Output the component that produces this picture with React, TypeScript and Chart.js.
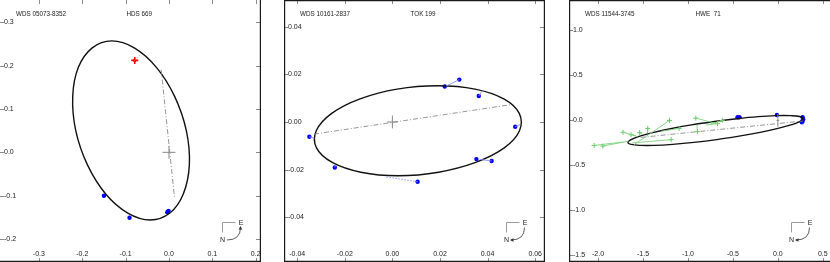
import React, { useEffect, useRef } from "react";
import { Chart, registerables } from "chart.js";
Chart.register(...registerables);

type Seg = [number, number, number, number];

// ---------- Panel 1 : WDS 05073-8352 / HDS 669 ----------
const P1_TITLE = "WDS 05073-8352";
const P1_NAME = "HDS 669";
const P1_X_TICKS = ["-0.3", "-0.2", "-0.1", "0.0", "0.1", "0.2"];
const P1_Y_TICKS = ["0.3", "0.2", "0.1", "0.0", "-0.1", "-0.2"];
const P1_ORBIT_X = [-0.132, -0.080, -0.029, 0.013, 0.040, 0.047, 0.033, 0.002, -0.043, -0.095, -0.146, -0.188, -0.215, -0.222, -0.209, -0.177];
const P1_ORBIT_Y = [0.257, 0.241, 0.196, 0.129, 0.050, -0.029, -0.096, -0.140, -0.156, -0.140, -0.096, -0.029, 0.050, 0.129, 0.196, 0.241];
const P1_BLUE_X = [-0.150, -0.091, -0.004, -0.001];
const P1_BLUE_Y = [-0.100, -0.151, -0.138, -0.135];
const P1_RED_X = [-0.079];
const P1_RED_Y = [0.212];
const P1_RED_RES: Seg[] = [[-0.079, 0.212, -0.060, 0.232]];
const P1_APSIDES: Seg = [-0.018, 0.191, 0.013, -0.107];
const P1_CROSS = [0.015, 0.015];

// ---------- Panel 2 : WDS 10161-2837 / TOK 199 ----------
const P2_TITLE = "WDS 10161-2837";
const P2_NAME = "TOK 199";
const P2_X_TICKS = ["-0.04", "-0.02", "0.00", "0.02", "0.04", "0.06"];
const P2_Y_TICKS = ["0.04", "0.02", "0.00", "-0.02", "-0.04"];
const P2_ORBIT_X = [0.0190, 0.0347, 0.0468, 0.0533, 0.0534, 0.0470, 0.0350, 0.0194, 0.0024, -0.0133, -0.0253, -0.0319, -0.0320, -0.0255, -0.0136, 0.0020];
const P2_ORBIT_Y = [0.0152, 0.0138, 0.0097, 0.0036, -0.0037, -0.0109, -0.0170, -0.0211, -0.0226, -0.0211, -0.0170, -0.0109, -0.0037, 0.0036, 0.0097, 0.0138];
const P2_BLUE_X = [-0.0349, -0.0242, 0.0106, 0.0220, 0.0281, 0.0363, 0.0516, 0.0353, 0.0417];
const P2_BLUE_Y = [-0.0062, -0.0191, -0.0251, 0.0149, 0.0178, 0.0109, -0.0020, -0.0156, -0.0164];
const P2_BLUE_RES: Seg[] = [
  [-0.0349, -0.0062, -0.0328, -0.0068],
  [-0.0242, -0.0191, -0.0240, -0.0180],
  [0.0281, 0.0178, 0.0226, 0.0151],
  [0.0363, 0.0109, 0.0377, 0.0132],
  [0.0516, -0.0020, 0.0536, -0.0011],
  [0.0417, -0.0164, 0.0367, -0.0157],
];
const P2_BLUE_RES_DOTTED: Seg[] = [[0.0106, -0.0251, -0.0027, -0.0231]];
const P2_APSIDES: Seg = [-0.0329, -0.0051, 0.0499, 0.0073];
const P2_CROSS = [0.0022, 0.0027];

// ---------- Panel 3 : WDS 11544-3745 / HWE 71 ----------
const P3_TITLE = "WDS 11544-3745";
const P3_NAME = "HWE  71";
const P3_X_TICKS = ["-2.0", "-1.5", "-1.0", "-0.5", "0.0", "0.5"];
const P3_Y_TICKS = ["1.0", "0.5", "0.0", "-0.5", "-1.0", "-1.5"];
const P3_ORBIT_X = [0.278, 0.248, 0.154, 0.002, -0.197, -0.430, -0.681, -0.934, -1.170, -1.373, -1.530, -1.632, -1.668, -1.638, -1.544, -1.392, -1.194, -0.961, -0.704, -0.457, -0.221, -0.017, 0.142, 0.242];
const P3_ORBIT_Y = [0.021, -0.010, -0.047, -0.089, -0.133, -0.174, -0.213, -0.244, -0.266, -0.278, -0.278, -0.267, -0.246, -0.216, -0.177, -0.136, -0.092, -0.050, -0.012, 0.019, 0.042, 0.053, 0.053, 0.043];
const P3_BLUE_X = [-0.011, -0.449, -0.431, 0.275, 0.281, 0.275, 0.267];
const P3_BLUE_Y = [0.061, 0.035, 0.035, 0.035, 0.014, -0.007, -0.021];
const P3_RED_X = [-0.420];
const P3_RED_Y = [0.035];
const P3_GREEN_X = [-2.043, -1.947, -1.722, -1.633, -1.537, -1.447, -1.205, -1.187, -1.098, -0.912, -0.895, -0.671, -0.617];
const P3_GREEN_Y = [-0.278, -0.285, -0.132, -0.160, -0.136, -0.089, 0.000, -0.214, -0.089, 0.025, -0.125, -0.036, 0.000];
const P3_GREEN_PRED_X = [-1.72, -1.66, -1.58, -1.56, -1.50, -1.45, -1.60, -1.62, -1.30, -0.70, -0.90, -0.80, -0.75];
const P3_GREEN_PRED_Y = [-0.24, -0.23, -0.17, -0.18, -0.16, -0.14, -0.27, -0.25, -0.12, -0.03, -0.05, -0.05, -0.04];
const P3_APSIDES: Seg = [-1.526, -0.189, 0.275, -0.007];
const P3_CROSS = [0.015, 0.07];

// ---------- helpers ----------
const pts = (xs: number[], ys: number[]) => xs.map((x, i) => ({ x, y: ys[i] }));

// closed smooth curve: wrap one point at each end and hide the two wrap segments
const orbitDs = (xs: number[], ys: number[]) => {
  const n = xs.length;
  const idx = [n - 1, ...xs.map((_, i) => i), 0, 1];
  const last = idx.length - 1;
  return {
    data: idx.map((i) => ({ x: xs[i], y: ys[i] })),
    showLine: true,
    borderColor: "#111111",
    borderWidth: 1.4,
    pointRadius: 0,
    tension: 0.4,
    segment: {
      borderColor: (c: any) =>
        c.p0DataIndex === 0 || c.p1DataIndex === last ? "rgba(0,0,0,0)" : undefined,
    },
  };
};

const segDs = (s: Seg, color: string, width: number, dash: number[] = []) => ({
  data: [{ x: s[0], y: s[1] }, { x: s[2], y: s[3] }],
  showLine: true,
  borderColor: color,
  borderWidth: width,
  borderDash: dash,
  pointRadius: 0,
  tension: 0,
});

interface PanelCfg {
  left: number;
  xMin: number; xMax: number; yMin: number; yMax: number;
  title: string; name: string;
  xTicks: string[]; yTicks: string[];
  frame: { l: boolean; r: boolean; t: boolean; b: boolean };
  arrowAtE: boolean;
  datasets: any[];
}

function buildP1(): any[] {
  return [
    segDs(P1_APSIDES, "#8a8a8a", 0.9, [5, 2, 1, 2]),
    segDs([-P1_CROSS[0], 0, P1_CROSS[0], 0], "#8a8a8a", 1),
    segDs([0, -P1_CROSS[1], 0, P1_CROSS[1]], "#8a8a8a", 1),
    orbitDs(P1_ORBIT_X, P1_ORBIT_Y),
    ...P1_RED_RES.map((s) => segDs(s, "#ff9a9a", 0.8, [1.5, 1.5])),
    { data: pts(P1_BLUE_X, P1_BLUE_Y), pointRadius: 2.2, pointBackgroundColor: "#0000ff", pointBorderColor: "#0000ff", pointBorderWidth: 0 },
    { data: pts(P1_RED_X, P1_RED_Y), pointStyle: "cross", pointRadius: 3.5, pointBorderColor: "#ff0000", pointBorderWidth: 1.6 },
    { data: pts(P1_RED_X, P1_RED_Y), pointRadius: 1.8, pointBackgroundColor: "#ff0000", pointBorderColor: "#ff0000", pointBorderWidth: 0 },
  ];
}

function buildP2(): any[] {
  return [
    segDs(P2_APSIDES, "#8a8a8a", 0.9, [5, 2, 1, 2]),
    segDs([-P2_CROSS[0], 0, P2_CROSS[0], 0], "#8a8a8a", 1),
    segDs([0, -P2_CROSS[1], 0, P2_CROSS[1]], "#8a8a8a", 1),
    ...P2_BLUE_RES.map((s) => segDs(s, "#8c8cff", 0.9)),
    ...P2_BLUE_RES_DOTTED.map((s) => segDs(s, "#8c8cff", 0.9, [1.5, 1.5])),
    orbitDs(P2_ORBIT_X, P2_ORBIT_Y),
    { data: pts(P2_BLUE_X, P2_BLUE_Y), pointRadius: 2.2, pointBackgroundColor: "#0000ff", pointBorderColor: "#0000ff", pointBorderWidth: 0 },
  ];
}

function buildP3(): any[] {
  const greenSegs: any[] = P3_GREEN_X.map((x, i) =>
    segDs([x, P3_GREEN_Y[i], P3_GREEN_PRED_X[i], P3_GREEN_PRED_Y[i]], "#7ed37e", 0.9)
  );
  return [
    ...greenSegs,
    { data: pts(P3_GREEN_X, P3_GREEN_Y), pointStyle: "cross", pointRadius: 2.5, pointBorderColor: "#66cc66", pointBorderWidth: 1 },
    segDs(P3_APSIDES, "#8a8a8a", 0.9, [5, 2, 1, 2]),
    segDs([-P3_CROSS[0], 0, P3_CROSS[0], 0], "#8a8a8a", 1),
    segDs([0, -P3_CROSS[1], 0, P3_CROSS[1]], "#8a8a8a", 1),
    orbitDs(P3_ORBIT_X, P3_ORBIT_Y),
    { data: pts(P3_BLUE_X, P3_BLUE_Y), pointRadius: 2.2, pointBackgroundColor: "#0000ff", pointBorderColor: "#0000ff", pointBorderWidth: 0 },
    { data: pts(P3_RED_X, P3_RED_Y), pointRadius: 1.8, pointBackgroundColor: "#ff0000", pointBorderColor: "#ff0000", pointBorderWidth: 0 },
  ];
}

const W = 261;
const H = 262;

const PANELS: PanelCfg[] = [
  {
    left: 0, xMin: -0.3768, xMax: 0.1993, yMin: -0.24, yMax: 0.3384,
    title: P1_TITLE, name: P1_NAME, xTicks: P1_X_TICKS, yTicks: P1_Y_TICKS,
    frame: { l: false, r: true, t: false, b: true }, arrowAtE: true, datasets: buildP1(),
  },
  {
    left: 284, xMin: -0.04387, xMax: 0.06244, yMin: -0.05715, yMax: 0.04957,
    title: P2_TITLE, name: P2_NAME, xTicks: P2_X_TICKS, yTicks: P2_Y_TICKS,
    frame: { l: true, r: true, t: true, b: true }, arrowAtE: false, datasets: buildP2(),
  },
  {
    left: 569, xMin: -2.2674, xMax: 0.5241, yMin: -1.5187, yMax: 1.2834,
    title: P3_TITLE, name: P3_NAME, xTicks: P3_X_TICKS, yTicks: P3_Y_TICKS,
    frame: { l: true, r: false, t: true, b: true }, arrowAtE: false, datasets: buildP3(),
  },
];

const FONT = "7px 'Liberation Sans', Arial, Helvetica, sans-serif";
const TITLE_FONT = "6.3px 'Liberation Sans', Arial, Helvetica, sans-serif";

function decorPlugin(p: PanelCfg) {
  return {
    id: "decor",
    afterDraw(chart: any) {
      const ctx: CanvasRenderingContext2D = chart.ctx;
      const xs = chart.scales.x;
      const ys = chart.scales.y;
      const w = chart.width;
      const h = chart.height;
      const line = (x1: number, y1: number, x2: number, y2: number) => {
        ctx.beginPath();
        ctx.moveTo(x1, y1);
        ctx.lineTo(x2, y2);
        ctx.stroke();
      };
      ctx.save();
      // tick marks (inward, mirrored)
      ctx.strokeStyle = "#8a8a8a";
      ctx.lineWidth = 1;
      p.xTicks.forEach((t) => {
        const px = Math.round(xs.getPixelForValue(parseFloat(t))) + 0.5;
        line(px, h, px, h - 4);
        line(px, 0, px, 4);
      });
      p.yTicks.forEach((t) => {
        const py = Math.round(ys.getPixelForValue(parseFloat(t))) + 0.5;
        line(0, py, 4, py);
        if (p.frame.r) line(w - 1, py, w - 5, py);
      });
      // frame
      ctx.strokeStyle = "#1a1a1a";
      ctx.lineWidth = 1.2;
      if (p.frame.l) line(0.6, 0, 0.6, h);
      if (p.frame.r) line(w - 0.6, 0, w - 0.6, h);
      if (p.frame.t) line(0, 0.6, w, 0.6);
      if (p.frame.b) line(0, h - 0.6, w, h - 0.6);
      // tick labels
      ctx.fillStyle = "#222";
      ctx.font = FONT;
      ctx.textBaseline = "middle";
      ctx.textAlign = "center";
      p.xTicks.forEach((t) => {
        ctx.fillText(t, xs.getPixelForValue(parseFloat(t)), 254.5);
      });
      ctx.textAlign = "left";
      p.yTicks.forEach((t) => {
        ctx.fillText(t, 4, ys.getPixelForValue(parseFloat(t)));
      });
      // titles
      ctx.font = TITLE_FONT;
      ctx.fillText(p.title, 16, 14);
      ctx.fillText(p.name, 126.5, 14);
      // compass
      ctx.font = FONT;
      const ox = 222.5;
      const oy = 222.5;
      ctx.strokeStyle = "#9a9a9a";
      ctx.lineWidth = 1;
      ctx.beginPath();
      ctx.moveTo(ox, oy + 10);
      ctx.lineTo(ox, oy);
      ctx.lineTo(ox + 13, oy);
      ctx.stroke();
      ctx.textAlign = "center";
      ctx.fillStyle = "#222";
      ctx.fillText("E", ox + 18.5, oy + 0.5);
      ctx.fillText("N", ox, oy + 17.5);
      ctx.strokeStyle = "#333";
      ctx.lineWidth = 0.8;
      ctx.beginPath();
      ctx.moveTo(ox + 4.5, oy + 17.5);
      ctx.quadraticCurveTo(ox + 18, oy + 17.5, ox + 18, oy + 5);
      ctx.stroke();
      ctx.fillStyle = "#333";
      ctx.beginPath();
      if (p.arrowAtE) {
        ctx.moveTo(ox + 18, oy + 3.5);
        ctx.lineTo(ox + 16.2, oy + 7);
        ctx.lineTo(ox + 19.8, oy + 7);
      } else {
        ctx.moveTo(ox + 3.5, oy + 17.5);
        ctx.lineTo(ox + 7, oy + 15.7);
        ctx.lineTo(ox + 7, oy + 19.3);
      }
      ctx.closePath();
      ctx.fill();
      ctx.restore();
    },
  };
}

function Panel({ p }: { p: PanelCfg }) {
  const ref = useRef<HTMLCanvasElement>(null);
  useEffect(() => {
    const chart = new Chart(ref.current as HTMLCanvasElement, {
      type: "scatter",
      data: { datasets: p.datasets },
      options: {
        responsive: false,
        animation: false,
        devicePixelRatio: 1,
        layout: { padding: 0 },
        plugins: { legend: { display: false }, tooltip: { enabled: false } },
        scales: {
          x: { type: "linear", min: p.xMin, max: p.xMax, display: false },
          y: { type: "linear", min: p.yMin, max: p.yMax, display: false },
        },
      },
      plugins: [decorPlugin(p)],
    } as any);
    return () => chart.destroy();
  }, []);
  return (
    <canvas
      ref={ref}
      width={W}
      height={H}
      style={{ position: "absolute", left: p.left, top: 0, width: W, height: H }}
    />
  );
}

export default function App() {
  return (
    <div style={{ position: "fixed", left: 0, top: 0, width: 830, height: 262, background: "#fff", overflow: "hidden" }}>
      {PANELS.map((p, i) => (
        <Panel key={i} p={p} />
      ))}
    </div>
  );
}
